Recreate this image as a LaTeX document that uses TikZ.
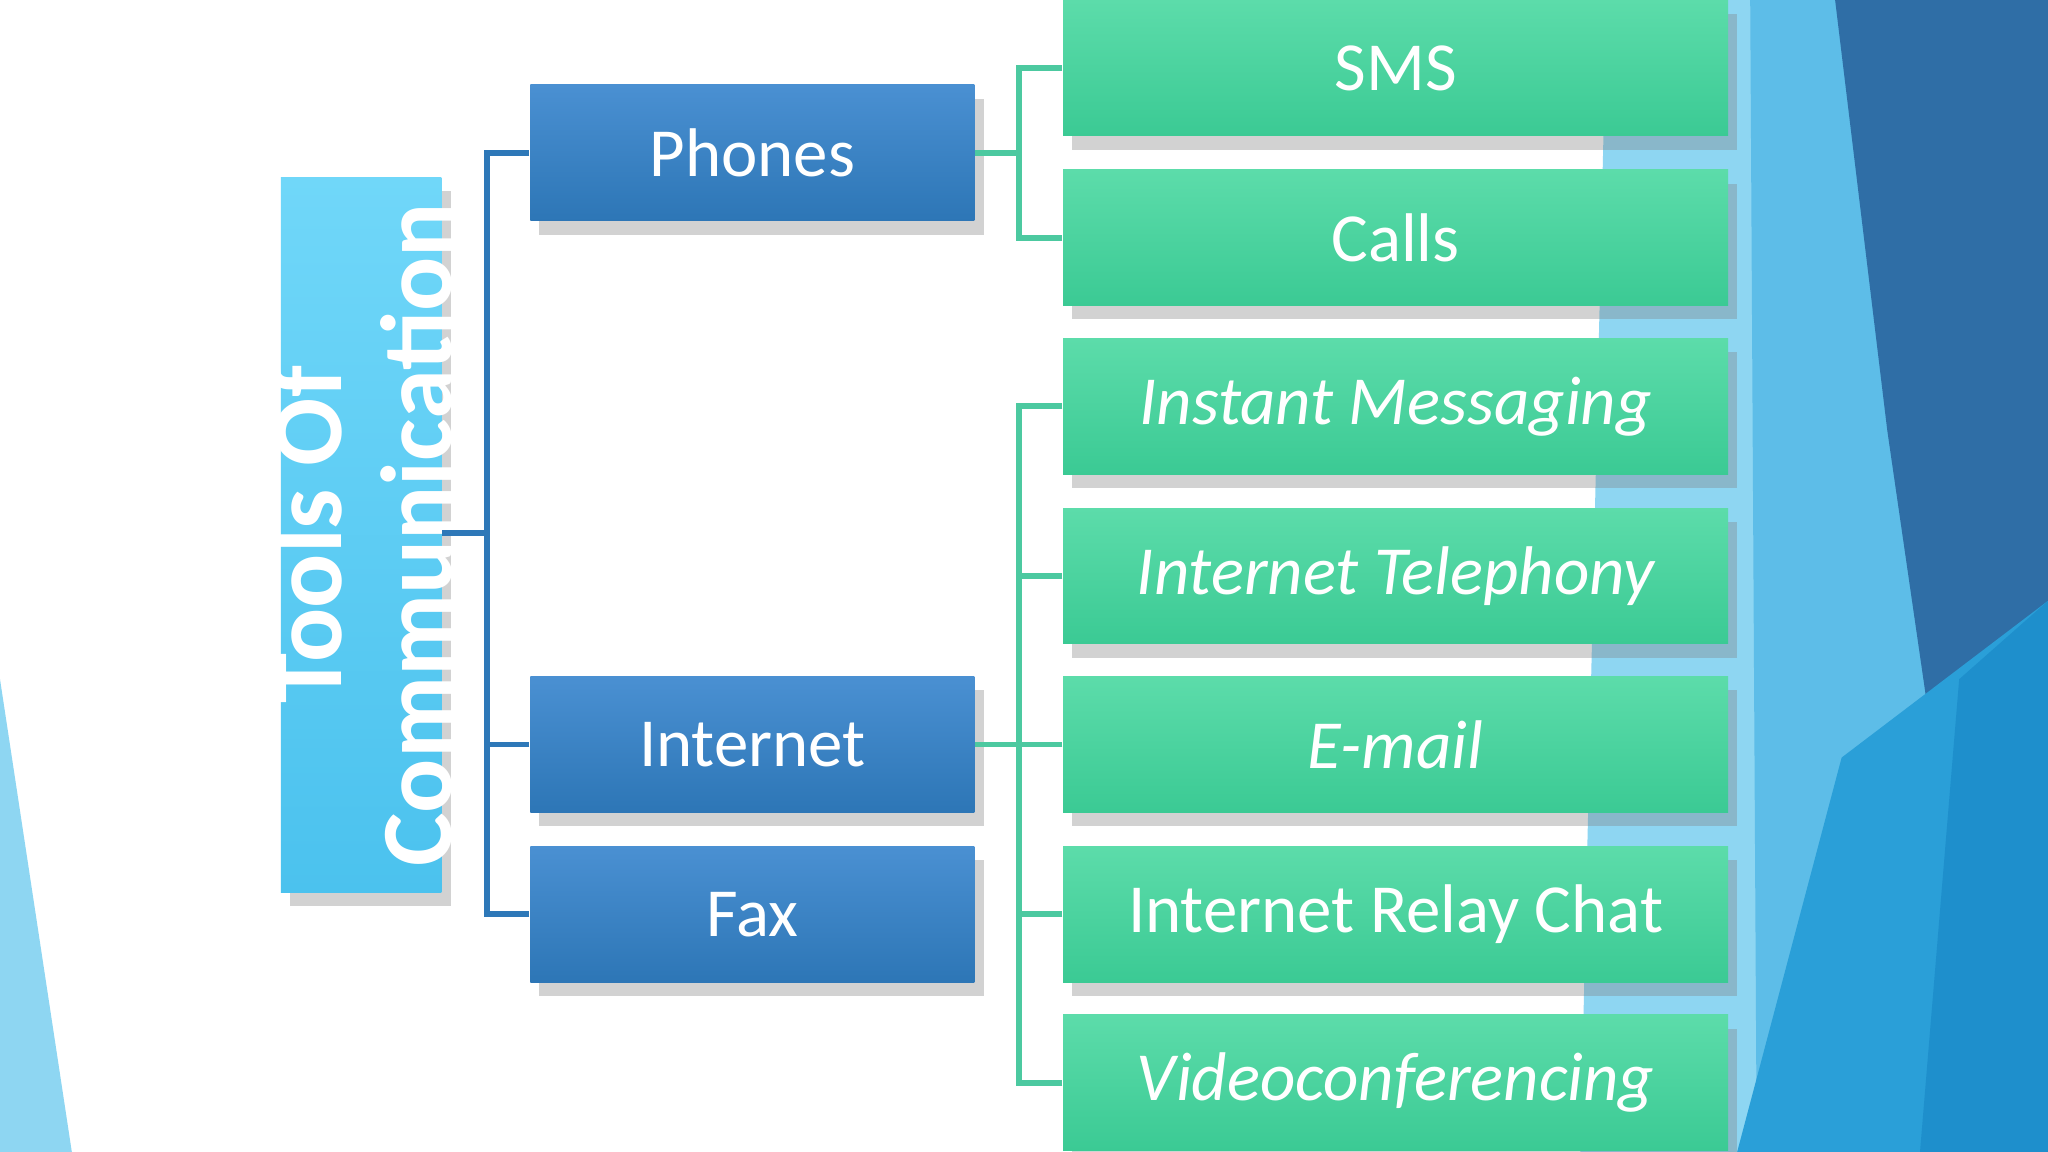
\documentclass[tikz,border=0pt]{standalone}
\usepackage{fontspec}
\setmainfont{Carlito}
\usetikzlibrary{shadows}
\definecolor{bluetop}{HTML}{4A90D2}
\definecolor{bluebot}{HTML}{2D76B6}
\definecolor{greentop}{HTML}{5CDCAA}
\definecolor{greenbot}{HTML}{3BCA94}
\definecolor{rtop}{HTML}{70D7F9}
\definecolor{rbot}{HTML}{4BC2EE}
\definecolor{bline}{HTML}{2E78B8}
\definecolor{gline}{HTML}{4CC9A0}
\definecolor{deco1}{HTML}{8ED6F2}
\definecolor{deco2}{HTML}{5DBDE8}
\definecolor{deco3}{HTML}{2F6EA6}
\definecolor{deco4}{HTML}{2A9FD8}
\definecolor{deco5}{HTML}{1E8FCC}
\newlength\pxu \setlength\pxu{0.1mm}
\tikzset{
 mid/.style={draw=none,top color=bluetop,bottom color=bluebot,minimum width=340\pxu,minimum height=104\pxu,inner sep=0pt,text=white,font=\fontsize{15}{18}\selectfont,drop shadow={opacity=0.35,shadow xshift=2pt,shadow yshift=-3pt}},
 leaf/.style={draw=none,top color=greentop,bottom color=greenbot,minimum width=509\pxu,minimum height=104\pxu,inner sep=0pt,text=white,font=\fontsize{15}{18}\selectfont,drop shadow={opacity=0.35,shadow xshift=2pt,shadow yshift=-3pt}},
 bcon/.style={draw=bline,line width=1.3pt},
 gcon/.style={draw=gline,line width=1.3pt}
}
\begin{document}
\begin{tikzpicture}[x=0.1mm,y=-0.1mm]
\useasboundingbox (0,0) rectangle (1568,882);
\fill[white] (0,0) rectangle (1568,882);
% decorations
\fill[deco1] (0,520) -- (55,882) -- (0,882) -- cycle;
\fill[deco1] (1230,0) -- (1568,0) -- (1568,882) -- (1210,882) -- cycle;
\fill[deco2] (1340,0) -- (1568,0) -- (1568,882) -- (1345,882) -- cycle;
\fill[deco3] (1405,0) -- (1568,0) -- (1568,460) -- (1490,640) -- (1445,330) -- cycle;
\fill[deco4] (1410,580) -- (1568,460) -- (1568,882) -- (1330,882) -- cycle;
\fill[deco5] (1500,520) -- (1568,460) -- (1568,882) -- (1470,882) -- cycle;
% root
\node[draw=none,top color=rtop,bottom color=rbot,minimum width=123\pxu,minimum height=547\pxu,inner sep=0pt,drop shadow={opacity=0.35,shadow xshift=2pt,shadow yshift=-3pt}] (root) at (276.5,409.5) {};
\node[rotate=90,text=white,font=\fontsize{22}{24}\selectfont\bfseries,align=center] (rootlbl) at (root.center) {Tools Of\\Communication};
% middle
\node[mid] (phones) at (576,117) {Phones};
\node[mid] (internet) at (576,570) {Internet};
\node[mid] (fax) at (576,700) {Fax};
% leaves
\node[leaf] (sms) at (1068.5,52) {SMS};
\node[leaf] (calls) at (1068.5,182) {Calls};
\node[leaf] (im) at (1068.5,311) {\itshape Instant Messaging};
\node[leaf] (it) at (1068.5,441) {\itshape Internet Telephony};
\node[leaf] (em) at (1068.5,570) {\itshape E-mail};
\node[leaf] (irc) at (1068.5,700) {Internet Relay Chat};
\node[leaf] (vc) at (1068.5,829) {\itshape Videoconferencing};
% connectors
\coordinate (rj) at (373,408);
\draw[bcon] (root.east |- rj) -- (rj);
\foreach \n in {phones,internet,fax}{\draw[bcon] (\n.west) -| (rj);}
\coordinate (pj) at (780,117);
\draw[gcon] (phones.east) -- (pj);
\foreach \n in {sms,calls}{\draw[gcon] (\n.west) -| (pj);}
\coordinate (ij) at (780,570);
\draw[gcon] (internet.east) -- (ij);
\foreach \n in {im,it,em,irc,vc}{\draw[gcon] (\n.west) -| (ij);}
\end{tikzpicture}
\end{document}
